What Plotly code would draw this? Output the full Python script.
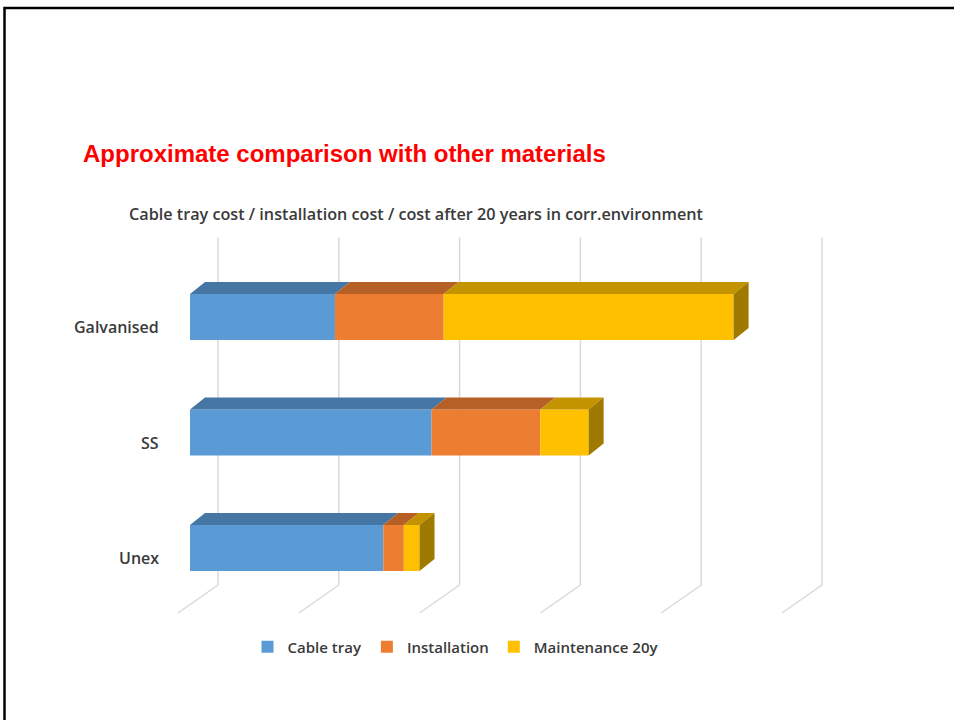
import plotly.graph_objects as go

# ---- data ----
categories = ["Galvanised", "SS", "Unex"]
series_names = ["Cable tray", "Installation", "Maintenance 20y"]
cable_tray = [12, 20, 16]
installation = [9, 9, 1.7]
maintenance = [24, 4, 1.3]
grid_values = [0, 10, 20, 30, 40, 50]

front_colors = ["#5B9BD5", "#ED7D31", "#FFC000"]
top_colors = ["#4677A4", "#B66026", "#C49400"]
side_colors = ["#4677A4", "#B66026", "#A07900"]

# ---- projection geometry (layout) ----
W, H = 954, 720
X0_PX, X_PX_PER_UNIT = 190, 12.08     # zero of value axis at bar front plane
Y0_PX, Y_PX_PER_CAT = 317, 115.5      # centre of first category's front face
BAR_W = 46 / Y_PX_PER_CAT
DEPTH_DX, DEPTH_DY = 15 / X_PX_PER_UNIT, -12 / Y_PX_PER_CAT
BACK_DX = 28 / X_PX_PER_UNIT
FRONT_DX = -12 / X_PX_PER_UNIT
WALL_TOP = (237.6 - Y0_PX) / Y_PX_PER_CAT
WALL_BOT = (585 - Y0_PX) / Y_PX_PER_CAT
FLOOR_FRONT = (613 - Y0_PX) / Y_PX_PER_CAT

xr = [(0 - X0_PX) / X_PX_PER_UNIT, (W - X0_PX) / X_PX_PER_UNIT]
yr = [(H - Y0_PX) / Y_PX_PER_CAT, (0 - Y0_PX) / Y_PX_PER_CAT]

TEXT = "#3A3A3A"
FONT = "Open Sans, DejaVu Sans, sans-serif"

fig = go.Figure()

series = [cable_tray, installation, maintenance]
ypos = list(range(len(categories)))

# front faces as stacked horizontal bars
bases = [0.0] * len(categories)
seg_bounds = []
for s, vals in enumerate(series):
    fig.add_trace(go.Bar(
        y=ypos, x=vals, base=list(bases), orientation="h", width=BAR_W,
        name=series_names[s], marker=dict(color=front_colors[s], line=dict(width=0)),
        showlegend=True, hoverinfo="x+name"))
    seg_bounds.append([(bases[i], bases[i] + vals[i]) for i in range(len(categories))])
    bases = [bases[i] + vals[i] for i in range(len(categories))]

# top faces of every segment + right side of last segment
for s in range(len(series)):
    for i in range(len(categories)):
        a, b = seg_bounds[s][i]
        yt = ypos[i] - BAR_W / 2
        fig.add_trace(go.Scatter(
            x=[a, b, b + DEPTH_DX, a + DEPTH_DX, a],
            y=[yt, yt, yt + DEPTH_DY, yt + DEPTH_DY, yt],
            mode="lines", fill="toself", fillcolor=top_colors[s],
            line=dict(width=0), showlegend=False, hoverinfo="skip"))
for i in range(len(categories)):
    end = bases[i]
    yt = ypos[i] - BAR_W / 2
    yb = ypos[i] + BAR_W / 2
    fig.add_trace(go.Scatter(
        x=[end, end + DEPTH_DX, end + DEPTH_DX, end, end],
        y=[yt, yt + DEPTH_DY, yb + DEPTH_DY, yb, yt],
        mode="lines", fill="toself", fillcolor=side_colors[-1],
        line=dict(width=0), showlegend=False, hoverinfo="skip"))

shapes = []
for v in grid_values:
    shapes.append(dict(type="line", xref="x", yref="y", layer="below",
                       x0=v + BACK_DX, x1=v + BACK_DX, y0=WALL_TOP, y1=WALL_BOT,
                       line=dict(color="#D9D9D9", width=1.5)))
    shapes.append(dict(type="line", xref="x", yref="y", layer="below",
                       x0=v + BACK_DX, x1=v + FRONT_DX, y0=WALL_BOT, y1=FLOOR_FRONT,
                       line=dict(color="#D9D9D9", width=1.5)))
# slide frame
shapes.append(dict(type="path", xref="paper", yref="paper",
                   path=f"M {4.5/W} 0 L {4.5/W} {1-8/H} L 1 {1-8/H}",
                   line=dict(color="black", width=2.5)))

annotations = []
for i, c in enumerate(categories):
    annotations.append(dict(x=(161 - X0_PX) / X_PX_PER_UNIT, y=ypos[i] + 10 / Y_PX_PER_CAT,
                            xref="x", yref="y", text=c, showarrow=False,
                            xanchor="right", yanchor="middle",
                            font=dict(family=FONT, size=16, color=TEXT, weight=600)))
annotations.append(dict(x=81 / W, y=1 - 153 / H, xref="paper", yref="paper",
                        text="<b>Approximate comparison with other materials</b>",
                        showarrow=False, xanchor="left", yanchor="middle",
                        font=dict(family="Liberation Sans, Arial, sans-serif", size=24, color="#FF0000")))
annotations.append(dict(x=415.5 / W, y=1 - 214 / H, xref="paper", yref="paper",
                        text="Cable tray cost / installation cost / cost after 20 years in corr.environment",
                        showarrow=False, xanchor="center", yanchor="middle",
                        font=dict(family=FONT, size=16.2, color=TEXT, weight=600)))

fig.update_layout(
    width=W, height=H, margin=dict(l=0, r=0, t=0, b=0, pad=0),
    paper_bgcolor="white", plot_bgcolor="white",
    barmode="overlay",
    xaxis=dict(range=xr, visible=False, fixedrange=True),
    yaxis=dict(range=yr, visible=False, fixedrange=True),
    shapes=shapes, annotations=annotations,
    legend=dict(orientation="h", x=456 / W, xanchor="center", y=1 - 647 / H, yanchor="middle",
                font=dict(family=FONT, size=15, color=TEXT, weight=600), bgcolor="rgba(0,0,0,0)"),
    showlegend=True,
)

fig.write_html("out.html", config={"displayModeBar": False},
               post_script="document.body.style.margin='0';document.body.style.padding='0';")
